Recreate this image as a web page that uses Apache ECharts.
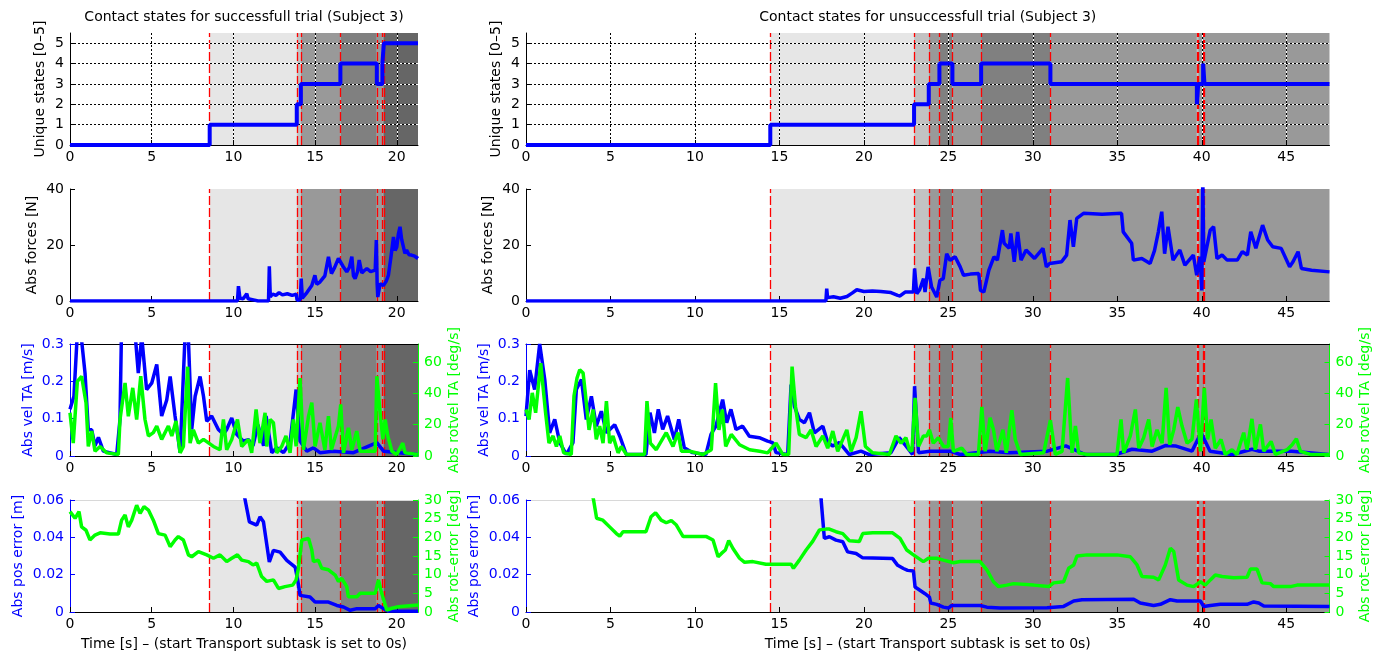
<!DOCTYPE html>
<html>
<head>
<meta charset="utf-8">
<title>Contact states</title>
<script src="https://cdn.jsdelivr.net/npm/echarts@6/dist/echarts.min.js"></script>
<style>html,body{margin:0;padding:0;background:#fff}</style>
</head>
<body>
<div id="main" style="width:1384px;height:658px;"></div>
<script type="text/javascript">
// contact state changes (time, state) for both trials
var statesL_t = [0, 8.55, 13.88, 14.13, 16.55, 18.78, 19.12, 19.21];
var statesL_v = [0, 1, 2, 3, 4, 3, 4, 5];
var statesR_t = [0, 14.46, 22.97, 23.84, 24.47, 25.24, 26.94, 31.04, 39.71, 39.79, 40.08, 40.16];
var statesR_v = [0, 1, 2, 3, 4, 3, 4, 3, 2, 3, 4, 3];
var tEnd = [21.3, 47.56];

var forceL = [[0,0],[10.25,0],[10.31,5.3],[10.4,1.0],[10.6,0.8],[10.82,2.6],[10.9,0.8],[11.3,0.3],[11.5,0],[12.15,0],[12.2,12.4],[12.26,1.5],[12.4,2.5],[12.6,2.0],[12.8,3.0],[13.0,2.2],[13.3,2.6],[13.6,2.0],[13.85,2.4],[13.9,0.3],[14.1,0.5],[14.15,8.0],[14.22,1.0],[14.5,3.0],[14.8,5.5],[14.99,9.2],[15.1,6.0],[15.3,6.8],[15.6,9.0],[15.82,15.8],[16.0,9.8],[16.2,12.0],[16.43,15.2],[16.7,12.5],[16.94,10.4],[17.1,12.0],[17.25,15.8],[17.35,9.0],[17.45,8.0],[17.6,10.5],[17.7,14.6],[17.86,10.0],[18.0,10.8],[18.17,11.6],[18.4,10.5],[18.68,11.0],[18.75,21.8],[18.8,6.0],[18.84,1.4],[18.98,6.2],[19.18,5.5],[19.35,7.0],[19.49,9.2],[19.65,16.0],[19.8,22.9],[19.9,18.0],[20.0,19.3],[20.1,24.0],[20.2,26.5],[20.3,22.0],[20.41,21.8],[20.5,17.0],[20.6,18.2],[20.75,16.5],[20.9,16.4],[21.1,16.0],[21.3,15.2]];
var forceR = [[0,0],[17.75,0],[17.8,4.4],[17.85,1.2],[18.2,1.5],[18.6,1.0],[19.0,1.6],[19.3,2.8],[19.58,4.0],[20.0,3.4],[20.5,3.6],[21.0,3.4],[21.6,3.0],[22.0,2.0],[22.14,1.8],[22.44,3.2],[22.93,3.2],[23.0,11.6],[23.13,2.6],[23.3,4.0],[23.53,8.0],[23.62,3.2],[23.8,12.2],[24.01,5.0],[24.31,1.4],[24.5,7.4],[24.7,8.0],[24.9,16.9],[25.1,14.5],[25.4,15.8],[25.7,12.2],[25.9,9.2],[26.3,9.6],[26.8,9.8],[26.9,3.8],[27.1,3.2],[27.4,11.0],[27.7,15.8],[27.9,14.6],[28.2,25.3],[28.3,20.6],[28.6,18.8],[28.7,24.1],[28.9,14.0],[29.1,24.7],[29.3,14.6],[29.6,18.2],[30.1,15.2],[30.6,18.8],[30.8,12.2],[31.0,13.4],[31.7,14.0],[32.0,16.4],[32.2,28.9],[32.4,19.4],[32.6,29.5],[33.0,31.3],[34.1,31.0],[35.25,31.3],[35.35,24.7],[35.85,20.6],[35.95,14.6],[36.45,15.2],[36.94,13.4],[37.2,18.0],[37.43,24.7],[37.63,31.9],[37.8,16.9],[38.0,26.5],[38.3,14.6],[38.7,18.2],[39.0,12.8],[39.5,16.4],[39.7,9.2],[39.9,15.8],[40.0,3.8],[40.06,45],[40.12,14.0],[40.2,14.6],[40.5,25.3],[40.7,26.5],[40.9,15.2],[41.2,16.4],[41.5,14.6],[42.1,14.6],[42.4,17.6],[42.7,16.4],[42.9,24.7],[43.2,18.8],[43.6,27.1],[43.9,21.8],[44.2,19.4],[44.7,18.8],[45.2,12.2],[45.4,14.0],[45.7,17.6],[45.9,11.6],[46.5,11.0],[47.56,10.4]];

var velL = [[0,0.125],[0.24,0.16],[0.45,0.33],[0.71,0.31],[0.92,0.222],[1.12,0.07],[1.33,0.07],[1.53,0.027],[1.74,0.05],[2.04,0.013],[2.86,0.004],[3.06,0.098],[3.16,0.36],[3.6,0.4],[3.98,0.33],[4.18,0.222],[4.39,0.32],[4.69,0.178],[5.0,0.195],[5.31,0.245],[5.61,0.107],[5.92,0.15],[6.13,0.213],[6.43,0.107],[6.74,0.009],[7.04,0.32],[7.25,0.31],[7.45,0.071],[7.66,0.16],[7.96,0.213],[8.17,0.16],[8.37,0.093],[8.67,0.107],[9.08,0.071],[9.39,0.058],[9.59,0.071],[9.9,0.102],[10.2,0.058],[10.6,0.04],[10.92,0.044],[11.2,0.027],[11.5,0.084],[11.85,0.027],[12.0,0.107],[12.35,0.009],[12.65,0.022],[13.07,0.009],[13.47,0.036],[13.84,0.178],[14.08,0.04],[14.5,0.013],[14.9,0.022],[15.3,0.009],[16.1,0.013],[17.35,0.009],[18.78,0.036],[19.19,0.013],[21.29,0.004]];
var rotvelL = [[0,27.6],[0.2,8.2],[0.45,47.7],[0.71,50.9],[0.98,34],[1.12,6.1],[1.33,15.9],[1.53,3],[1.84,6.1],[2.24,2],[2.96,1],[3.06,23.3],[3.37,46.6],[3.57,25.4],[3.84,43.5],[4.08,23.3],[4.33,50.9],[4.59,23.3],[4.8,12.8],[5.1,14.9],[5.31,19.1],[5.61,10.6],[6.02,19.1],[6.23,12.8],[6.49,22.3],[6.74,2],[6.94,6.1],[7.2,57],[7.35,8.2],[7.55,16.7],[7.86,8.2],[8.17,10.6],[8.78,6.1],[9.18,4],[9.39,23.3],[9.59,4],[9.9,10.6],[10.25,23.3],[10.51,6.1],[10.92,10.6],[11.12,2],[11.39,29.7],[11.63,8.2],[11.94,27.6],[12.04,6.1],[12.25,23.3],[12.45,21.2],[12.65,2],[12.96,6.1],[13.22,12.8],[13.47,2],[13.67,23.3],[13.84,6.1],[14.08,49.8],[14.29,4],[14.6,25.4],[14.8,34],[15.0,6.1],[15.3,21.2],[15.6,4],[15.82,25.4],[16.0,4],[16.43,19.1],[16.57,32.9],[16.74,2],[17.04,18],[17.25,4],[17.55,15.9],[17.76,3],[18.68,3],[18.78,50.9],[18.98,27.6],[19.15,10.6],[19.29,23.3],[19.45,12.8],[19.7,3],[20.0,1],[20.37,8.2],[20.51,2],[21.29,1]];
var velR = [[0,0.107],[0.22,0.23],[0.51,0.178],[0.81,0.3],[1.11,0.205],[1.4,0.062],[1.7,0.098],[2.0,0.036],[2.39,0.004],[2.78,0.036],[2.98,0.178],[3.28,0.205],[3.57,0.098],[3.87,0.16],[4.16,0.08],[4.46,0.12],[4.76,0.062],[5.25,0.084],[5.55,0.053],[5.94,0.004],[7.1,0.004],[7.34,0.116],[7.6,0.062],[7.83,0.125],[8.09,0.071],[8.38,0.107],[8.78,0.044],[9.04,0.098],[9.37,0.022],[9.86,0.009],[10.65,0.004],[10.95,0.058],[11.24,0.08],[11.64,0.151],[11.88,0.089],[12.13,0.125],[12.43,0.071],[12.82,0.08],[13.22,0.053],[13.81,0.049],[14.3,0.04],[14.6,0.036],[14.8,0.009],[15.49,0.004],[15.69,0.191],[15.89,0.133],[16.18,0.098],[16.48,0.089],[16.78,0.116],[17.07,0.062],[17.57,0.08],[17.86,0.036],[18.16,0.027],[18.55,0.036],[19.14,0.004],[19.83,0.013],[20.32,0.004],[21.6,0.009],[22.09,0.049],[22.49,0.027],[22.88,0.004],[23.0,0.187],[23.23,0.009],[23.92,0.013],[25.1,0.013],[25.7,0.004],[27.47,0.013],[28.6,0.009],[30.86,0.013],[31.95,0.027],[33.1,0.004],[34.9,0.004],[35.87,0.018],[37.06,0.013],[37.84,0.028],[38.44,0.027],[39.42,0.013],[39.96,0.062],[40.49,0.013],[41.8,0.004],[42.97,0.018],[43.37,0.013],[45.34,0.013],[47.5,0.004]];
var rotvelR = [[0,29.7],[0.18,23.3],[0.37,40.3],[0.57,27.6],[0.87,59.3],[1.16,27.6],[1.36,8.2],[1.6,12.8],[1.8,6.1],[2.0,12.8],[2.23,2],[2.68,1],[2.84,38.2],[3.02,49.8],[3.18,55.1],[3.38,53],[3.53,38.2],[3.73,16.7],[3.97,29.7],[4.16,10.6],[4.36,19.1],[4.56,8.2],[4.76,35.1],[4.95,8.2],[5.15,12.8],[5.45,2],[5.64,6.1],[5.94,1],[7.02,1],[7.16,35.1],[7.36,8.2],[7.71,4],[8.3,14.9],[8.7,6.1],[9.0,14.9],[9.2,3],[9.69,3],[10.48,1],[10.97,4],[11.22,46.6],[11.42,16.7],[11.62,29.7],[11.82,6.1],[12.15,13.8],[12.64,7.2],[13.24,4],[13.83,3],[14.3,2],[14.8,8.2],[15.2,1],[15.55,1],[15.75,57.1],[15.95,31.8],[16.18,13.8],[16.58,11.7],[16.87,16.7],[17.17,6.1],[17.57,12.8],[17.86,5],[18.16,15.9],[18.45,3],[18.75,10.6],[18.99,16.7],[19.24,3],[19.54,11.7],[19.83,28.6],[20.09,6.1],[20.52,2],[21.51,1],[21.9,12.8],[22.2,8.2],[22.49,11.7],[22.69,4],[22.84,3],[23.03,37.1],[23.23,6.1],[23.52,12.8],[23.72,12.8],[23.88,16.7],[24.11,8.2],[24.41,11.7],[24.71,6.1],[25.0,6.1],[25.14,24.4],[25.3,3],[25.79,5],[26.09,1],[26.78,1],[26.98,31.4],[27.18,3],[27.47,24.4],[27.67,16.7],[27.87,3],[28.23,16.7],[28.43,2],[28.76,29.3],[28.96,10.6],[29.26,1],[30.64,2],[31.04,22.9],[31.33,1],[31.73,3],[32.06,49.8],[32.32,2],[32.52,19.1],[32.71,2],[33.21,1],[34.98,1],[35.22,23.3],[35.38,2],[35.77,12.8],[36.07,29.7],[36.27,5],[36.56,11.7],[36.86,23.3],[37.06,6.1],[37.35,16.7],[37.65,8.2],[37.89,43.5],[38.1,7.2],[38.34,16.7],[38.58,31.2],[38.83,19.1],[39.13,8.2],[39.42,10.6],[39.68,36.1],[39.92,3],[40.15,43.5],[40.35,10.6],[40.55,23.3],[40.8,5],[41.14,10.6],[41.39,1],[41.79,4],[42.08,1],[42.48,14.9],[42.68,4],[42.97,23.7],[43.17,4],[43.47,20.2],[43.67,3],[44.1,9.3],[44.36,1],[45.05,4],[45.35,7.2],[45.6,11],[45.84,3],[46.43,1],[47.56,1]];

var posErrL = [[10.5,0.07],[10.72,0.06],[10.98,0.0483],[11.43,0.0465],[11.63,0.051],[11.84,0.0483],[12.2,0.0268],[12.45,0.033],[12.86,0.0321],[13.27,0.0277],[13.78,0.0241],[13.94,0.017],[14.08,0.0089],[14.69,0.008],[15.0,0.0053],[15.82,0.0053],[16.33,0.0035],[16.74,0.0027],[17.15,0.0009],[17.56,0.0018],[18.68,0.0018],[18.88,0.0035],[19.19,0.0018],[19.49,0.0005],[21.3,0.0004]];
var rotErrL = [[0,26.9],[0.31,25.1],[0.55,26.9],[0.71,22.8],[0.98,21.9],[1.22,19.3],[1.53,20.6],[1.84,21.2],[2.45,20.9],[2.96,20.9],[3.16,24.6],[3.37,26.0],[3.57,22.8],[3.78,24.6],[4.08,28.6],[4.29,26.4],[4.53,28.2],[4.8,27.3],[5.1,24.6],[5.41,21.0],[5.82,20.6],[6.13,17.5],[6.43,19.3],[6.63,20.2],[6.94,19.3],[7.25,15.3],[7.45,14.8],[7.86,16.2],[8.37,15.3],[8.78,14.4],[9.18,15.3],[9.59,13.5],[9.9,14.4],[10.25,15.3],[10.51,13.9],[10.92,13.5],[11.2,12.6],[11.43,13.1],[11.73,9.5],[12.04,8.2],[12.45,8.6],[12.76,6.3],[13.16,6.8],[13.63,7.2],[13.84,8.6],[13.98,11.7],[14.19,19.3],[14.6,19.7],[14.8,16.6],[14.9,13.5],[15.2,13.9],[15.41,11.7],[15.82,11.3],[16.23,9.9],[16.43,8.2],[16.63,9.0],[16.94,6.8],[17.04,4.1],[17.56,4.1],[17.76,5.0],[18.68,5.0],[18.88,8.6],[19.08,5.0],[19.39,0.5],[19.7,1.0],[20.1,1.4],[21.3,1.9]];
var posErrR = [[17.4,0.07],[17.47,0.06],[17.66,0.0394],[17.96,0.0403],[18.35,0.0385],[18.75,0.0376],[19.04,0.0322],[19.54,0.0313],[19.93,0.029],[21.7,0.0286],[22.0,0.025],[22.34,0.0233],[22.59,0.0223],[22.93,0.022],[23.03,0.0134],[23.62,0.0098],[23.88,0.008],[23.96,0.0048],[24.31,0.0041],[24.71,0.0026],[25.0,0.0021],[25.2,0.0035],[26.88,0.0035],[27.28,0.0026],[28.06,0.0021],[30.84,0.0023],[31.82,0.003],[32.42,0.0059],[32.91,0.0066],[35.97,0.0068],[36.36,0.0048],[37.15,0.0035],[37.55,0.0041],[38.14,0.0066],[38.54,0.0059],[39.92,0.0059],[40.11,0.003],[40.51,0.0035],[41.1,0.0041],[42.68,0.0041],[43.07,0.0054],[43.37,0.0048],[43.67,0.0032],[47.56,0.003]];
var rotErrR = [[3.9,32],[4.0,30],[4.18,25.1],[4.55,24.6],[4.95,22.8],[5.35,21.0],[5.55,20.3],[5.74,21.5],[7.1,21.5],[7.4,25.5],[7.67,26.6],[8.0,24.6],[8.3,23.9],[8.6,24.5],[8.9,23.3],[9.3,20.2],[10.68,20.2],[11.07,19.3],[11.37,14.8],[11.57,15.7],[11.8,16.6],[12.0,19.1],[12.25,17.0],[12.64,14.4],[12.94,13.3],[13.43,13.5],[14.2,12.8],[15.69,12.8],[15.83,11.7],[16.18,13.9],[16.58,16.6],[16.97,18.9],[17.37,22.0],[17.76,22.2],[17.96,22.2],[18.35,21.5],[18.75,21.0],[19.14,19.1],[19.73,18.9],[19.93,21.0],[20.52,21.2],[21.7,21.2],[22.14,19.7],[22.54,16.6],[22.93,15.3],[23.52,13.5],[23.82,14.4],[24.31,14.4],[24.71,13.9],[25.3,13.2],[25.7,13.5],[26.88,13.5],[27.28,11.3],[27.67,8.1],[27.97,6.8],[28.46,7.2],[28.86,7.6],[30.05,7.2],[30.94,6.8],[31.23,7.8],[31.82,8.1],[32.12,11.7],[32.42,12.6],[32.61,15.0],[33.21,15.3],[34.98,15.3],[35.77,14.8],[36.17,12.6],[36.46,9.5],[37.15,9.3],[37.45,8.6],[37.84,12.6],[38.14,17.1],[38.34,16.2],[38.63,8.6],[39.13,7.2],[39.52,6.8],[39.62,6.4],[39.92,8.1],[40.21,7.2],[40.51,8.6],[40.8,9.9],[41.2,9.5],[41.89,9.2],[42.68,9.3],[42.88,11.5],[43.27,11.5],[43.57,7.8],[44.06,7.6],[44.26,6.8],[45.25,6.8],[45.64,7.2],[47.56,7.2]];

var titles = ['Contact states for successfull trial (Subject 3)', 'Contact states for unsuccessfull trial (Subject 3)'];
var xLabel = 'Time [s] \u2013 (start Transport subtask is set to 0s)';

var FONT = 'DejaVu Sans';
var BLUE = '#0000ff', GREEN = '#00ff00';
var shade = ['#ffffff', '#e6e6e6', '#c2c2c2', '#999999', '#808080', '#666666'];
var colLeft = [70, 526], colWidth = [348, 803.5];
var rowTop = [33, 189, 344, 500], rowH = 112;

var states = [[statesL_t, statesL_v], [statesR_t, statesR_v]];

function stepData(c) {
    var t = states[c][0], v = states[c][1];
    var d = t.map(function (x, i) { return [x, v[i]]; });
    d.push([tEnd[c], v[v.length - 1]]);
    return d;
}
function bandAreas(c) {
    var t = states[c][0], v = states[c][1], out = [];
    for (var i = 0; i < t.length; i++) {
        if (v[i] === 0) continue;
        var b = i + 1 < t.length ? t[i + 1] : tEnd[c];
        out.push([{ xAxis: t[i], itemStyle: { color: shade[v[i]], opacity: 1 } }, { xAxis: b }]);
    }
    return out;
}
function changeLines(c) {
    return states[c][0].slice(1).map(function (x) { return { xAxis: x }; });
}

var grids = [], xAxes = [], yAxes = [], series = [];
var txt = function (color, size) { return { color: color, fontFamily: FONT, fontSize: size || 14 }; };

// main axes, one pair per grid
for (var g = 0; g < 8; g++) {
    var r = Math.floor(g / 2), c = g % 2;
    grids.push({ left: colLeft[c], top: rowTop[r], width: colWidth[c], height: rowH, outerBoundsMode: 'none' });
    xAxes.push({
        type: 'value', gridIndex: g, min: 0, max: tEnd[c], interval: 5, z: 3,
        axisLine: { show: true, onZero: false, lineStyle: { color: '#000', width: 1 } },
        axisTick: { show: true, inside: true, length: 5, lineStyle: { color: '#000' } },
        axisLabel: Object.assign({ margin: 5, showMaxLabel: false }, txt('#000', 14)),
        splitLine: { show: r === 0, showMinLine: false, showMaxLine: false, lineStyle: { color: '#000', type: [2, 2], width: 1 } },
        name: r === 3 ? xLabel : '', nameLocation: 'middle', nameGap: 25, nameMoveOverlap: false,
        nameTextStyle: txt('#000', 14)
    });
    var yc = r >= 2 ? BLUE : '#000';
    var yCfg = [
        { max: 5.5, interval: 1, name: 'Unique states [0\u20135]', gap: 23 },
        { max: 40, interval: 20, name: 'Abs forces [N]', gap: 31 },
        { max: 0.3, interval: 0.1, name: 'Abs vel TA [m/s]', gap: 35 },
        { max: 0.06, interval: 0.02, name: 'Abs pos error [m]', gap: 45 }
    ][r];
    yAxes.push({
        type: 'value', gridIndex: g, min: 0, max: yCfg.max, interval: yCfg.interval, z: 3,
        axisLine: { show: true, onZero: false, lineStyle: { color: yc, width: 1 } },
        axisTick: { show: true, inside: true, length: 5, lineStyle: { color: yc } },
        axisLabel: Object.assign({ margin: 6, showMaxLabel: r !== 0 }, txt(yc, 14)),
        splitLine: { show: r === 0, showMinLine: false, showMaxLine: false, lineStyle: { color: '#000', type: [2, 2], width: 1 } },
        name: yCfg.name, nameLocation: 'middle', nameGap: yCfg.gap, nameRotate: 90, nameMoveOverlap: false,
        nameTextStyle: txt(yc, 14)
    });
}
// white grid under dotted grid (row 1)
for (var g = 0; g < 2; g++) {
    xAxes.push({
        type: 'value', gridIndex: g, min: 0, max: tEnd[g], interval: 5, z: 2,
        axisLine: { show: false }, axisTick: { show: false }, axisLabel: { show: false },
        splitLine: { show: true, showMinLine: false, showMaxLine: false, lineStyle: { color: '#fff', width: 1 } }
    });
    yAxes.push({
        type: 'value', gridIndex: g, min: 0, max: 5.5, interval: 1, z: 2,
        axisLine: { show: false }, axisTick: { show: false }, axisLabel: { show: false },
        splitLine: { show: true, showMinLine: false, showMaxLine: false, lineStyle: { color: '#fff', width: 1 } }
    });
}
// top border lines (rows 3 and 4)
for (var g = 4; g < 8; g++) {
    xAxes.push({
        type: 'value', gridIndex: g, position: 'top', min: 0, max: tEnd[g % 2], z: 3,
        axisLine: { show: true, onZero: false, lineStyle: { color: g < 6 ? '#000' : '#d8d8d8', width: 1 } },
        axisTick: { show: false }, axisLabel: { show: false }, splitLine: { show: false }
    });
}
// right axes (rows 3 and 4)
var rightIdx = {};
for (var g = 4; g < 8; g++) {
    var rc = g < 6 ? { max: 71.5, interval: 20, name: 'Abs rotvel TA [deg/s]' } : { max: 30, interval: 5, name: 'Abs rot\u2013error [deg]' };
    rightIdx[g] = yAxes.length;
    yAxes.push({
        type: 'value', gridIndex: g, position: 'right', min: 0, max: rc.max, interval: rc.interval, z: 3,
        axisLine: { show: true, onZero: false, lineStyle: { color: GREEN, width: 1 } },
        axisTick: { show: true, inside: true, length: 5, lineStyle: { color: GREEN } },
        axisLabel: Object.assign({ margin: 6, showMaxLabel: g >= 6 }, txt(GREEN, 14)),
        splitLine: { show: false },
        name: rc.name, nameLocation: 'middle', nameGap: 29, nameRotate: 90, nameMoveOverlap: false,
        nameTextStyle: txt(GREEN, 14)
    });
}

// background shading + red dashed phase lines
for (var g = 0; g < 8; g++) {
    var c = g % 2;
    series.push({
        type: 'line', xAxisIndex: g, yAxisIndex: g, data: [], z: 1, silent: true, symbol: 'none',
        markArea: { silent: true, data: bandAreas(c) },
        markLine: {
            silent: true, symbol: ['none', 'none'], label: { show: false }, z: 1,
            lineStyle: { color: '#ff0000', type: [9, 3], width: 1.3 },
            data: changeLines(c)
        }
    });
}

function line(data, g, yIdx, color, w, extra) {
    return Object.assign({
        type: 'line', data: data, xAxisIndex: g, yAxisIndex: yIdx, symbol: 'none', z: 4,
        lineStyle: { color: color, width: w }, itemStyle: { color: color }
    }, extra || {});
}
series.push(line(stepData(0), 0, 0, BLUE, 4, { step: 'end' }));
series.push(line(stepData(1), 1, 1, BLUE, 4, { step: 'end' }));
series.push(line(forceL, 2, 2, BLUE, 3.5));
series.push(line(forceR, 3, 3, BLUE, 3.5));
series.push(line(velL, 4, 4, BLUE, 3.5));
series.push(line(rotvelL, 4, rightIdx[4], GREEN, 3.5, { z: 5 }));
series.push(line(velR, 5, 5, BLUE, 3.5));
series.push(line(rotvelR, 5, rightIdx[5], GREEN, 3.5, { z: 5 }));
series.push(line(posErrL, 6, 6, BLUE, 3.5));
series.push(line(rotErrL, 6, rightIdx[6], GREEN, 3.5, { z: 5 }));
series.push(line(posErrR, 7, 7, BLUE, 3.5));
series.push(line(rotErrR, 7, rightIdx[7], GREEN, 3.5, { z: 5 }));

var myChart = echarts.init(document.getElementById('main'));
myChart.setOption({
    animation: false,
    backgroundColor: '#fff',
    grid: grids,
    xAxis: xAxes,
    yAxis: yAxes,
    series: series,
    graphic: titles.map(function (t, i) {
        return {
            type: 'text', x: colLeft[i] + colWidth[i] / 2, y: 17, silent: true,
            style: { text: t, align: 'center', verticalAlign: 'middle', fill: '#000', font: '14px "DejaVu Sans"' }
        };
    })
});
</script>
</body>
</html>
